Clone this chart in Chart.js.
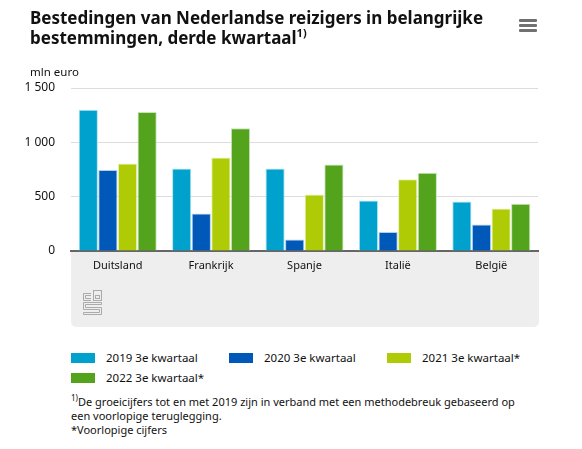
<!DOCTYPE html>
<html>
<head>
<meta charset="utf-8">
<script src="https://cdn.jsdelivr.net/npm/chart.js@4.4.1/dist/chart.umd.min.js"></script>
<style>
    body { margin: 0; background: #fff; font-family: 'Noto Sans', sans-serif; color: #111; }
    #wrap { position: relative; width: 582px; height: 449px; overflow: hidden; }
    #chart-box { position: absolute; left: 0; top: 0; width: 582px; height: 340px; }
    .title { position: absolute; left: 30px; top: 8px; font-size: 17px; font-weight: bold; line-height: 20px; white-space: nowrap; }
    .title sup { font-size: 11px; line-height: 0; }
    .unit { position: absolute; left: 30px; top: 64px; font-size: 11.5px; }
    .menu { position: absolute; left: 519px; top: 19px; width: 18px; }
    .menu div { height: 3px; background: #707070; margin-bottom: 2px; border-radius: 1px; }
    .legend-item { position: absolute; font-size: 11.5px; white-space: nowrap; }
    .legend-item span.box { position: absolute; left: 0; top: 4px; width: 24px; height: 10px; }
    .legend-item span.txt { position: absolute; left: 35px; top: 0; line-height: 17px; }
    .notes { position: absolute; left: 71px; top: 395px; font-size: 11px; line-height: 14px; white-space: nowrap; }
    .notes sup { font-size: 8px; line-height: 0; }
</style>
</head>
<body>
<div id="wrap">
    <div id="chart-box"><canvas id="spend-chart"></canvas></div>
    <div class="title">Bestedingen van Nederlandse reizigers in belangrijke<br>bestemmingen, derde kwartaal<sup>1)</sup></div>
    <div class="menu"><div></div><div></div><div></div></div>
    <div class="unit">mln euro</div>
    <div id="legend"></div>
    <div class="notes"><sup>1)</sup>De groeicijfers tot en met 2019 zijn in verband met een methodebreuk gebaseerd op<br>een voorlopige teruglegging.<br>*Voorlopige cijfers</div>
</div>
<script>
// data (mln euro)
const countries = ['Duitsland', 'Frankrijk', 'Spanje', 'Italië', 'België'];
const seriesNames = ['2019 3e kwartaal', '2020 3e kwartaal', '2021 3e kwartaal*', '2022 3e kwartaal*'];
const q3_2019 = [1300, 760, 760, 465, 455];
const q3_2020 = [745, 345, 105, 175, 245];
const q3_2021 = [805, 860, 520, 660, 390];
const q3_2022 = [1280, 1130, 795, 720, 435];
const yTicks = [0, 500, 1000, 1500];

const colors = ['#00a1cd', '#0058b8', '#afcb05', '#53a31d'];
const borders = ['#b3e3f0', '#b3cdea', '#e7efb4', '#cbe3bb'];

const fmt = (v) => String(v).replace(/\B(?=(\d{3})+(?!\d))/g, ' ');

// grey band under the axis + small cbs mark
const bandPlugin = {
    id: 'band',
    beforeDraw: (chart) => {
        const ctx = chart.ctx;
        const area = chart.chartArea;
        const xs = chart.scales.x;
        const l = area.left, r = area.right + 1, t = area.bottom, b = xs.bottom, rad = 6;
        ctx.save();
        ctx.fillStyle = '#eeeeee';
        ctx.beginPath();
        ctx.moveTo(l, t);
        ctx.lineTo(r, t);
        ctx.lineTo(r, b - rad);
        ctx.quadraticCurveTo(r, b, r - rad, b);
        ctx.lineTo(l + rad, b);
        ctx.quadraticCurveTo(l, b, l, b - rad);
        ctx.closePath();
        ctx.fill();

        // logo
        const lx = l + 12, ly = t + 39;
        ctx.strokeStyle = '#aaaaaa';
        ctx.lineWidth = 1;
        ctx.beginPath();
        // c
        ctx.moveTo(lx + 8, ly + 3.5); ctx.lineTo(lx + 0.5, ly + 3.5); ctx.lineTo(lx + 0.5, ly + 10.5); ctx.lineTo(lx + 8, ly + 10.5);
        ctx.moveTo(lx + 8, ly + 5.5); ctx.lineTo(lx + 2.5, ly + 5.5); ctx.lineTo(lx + 2.5, ly + 8.5); ctx.lineTo(lx + 8, ly + 8.5);
        ctx.stroke();
        // b
        ctx.strokeRect(lx + 10.5, ly + 0.5, 8, 10);
        ctx.strokeRect(lx + 12.5, ly + 5.5, 4, 3);
        // s
        ctx.beginPath();
        ctx.moveTo(lx + 18.5, ly + 12.5); ctx.lineTo(lx + 0.5, ly + 12.5); ctx.lineTo(lx + 0.5, ly + 19.5);
        ctx.lineTo(lx + 16.5, ly + 19.5); ctx.lineTo(lx + 16.5, ly + 22.5); ctx.lineTo(lx + 0.5, ly + 22.5);
        ctx.lineTo(lx + 0.5, ly + 24.5); ctx.lineTo(lx + 18.5, ly + 24.5); ctx.lineTo(lx + 18.5, ly + 17.5);
        ctx.lineTo(lx + 2.5, ly + 17.5); ctx.lineTo(lx + 2.5, ly + 14.5); ctx.lineTo(lx + 18.5, ly + 14.5);
        ctx.closePath();
        ctx.stroke();
        ctx.restore();
    }
};

const ctx = document.getElementById('spend-chart');
const chart = new Chart(ctx, {
    type: 'bar',
    data: {
        labels: countries,
        datasets: [q3_2019, q3_2020, q3_2021, q3_2022].map((vals, i) => ({
            label: seriesNames[i],
            data: vals,
            backgroundColor: colors[i],
            borderColor: borders[i],
            borderWidth: 1,
            barPercentage: 0.98,
            categoryPercentage: 0.84
        }))
    },
    options: {
        responsive: true,
        maintainAspectRatio: false,
        animation: false,
        layout: { padding: { left: 0, right: 44, top: 88, bottom: 13 } },
        plugins: {
            legend: { display: false },
            tooltip: { enabled: false }
        },
        scales: {
            x: {
                afterFit: (scale) => { scale.height = 76; },
                grid: { display: false, drawTicks: false },
                border: { display: true, color: '#666666', width: 2 },
                ticks: {
                    padding: 8,
                    color: '#111',
                    font: { family: "'Noto Sans', sans-serif", size: 11 }
                }
            },
            y: {
                min: 0,
                max: 1500,
                afterFit: (scale) => { scale.width = 71; },
                afterBuildTicks: (scale) => { scale.ticks = yTicks.map(v => ({ value: v })); },
                grid: {
                    drawTicks: false,
                    color: (c) => c.tick && c.tick.value === 0 ? 'rgba(0,0,0,0)' : '#dddddd'
                },
                border: { display: false },
                ticks: {
                    padding: 16,
                    color: '#111',
                    font: { family: "'Noto Sans', sans-serif", size: 12 },
                    callback: (v) => fmt(v)
                }
            }
        }
    },
    plugins: [bandPlugin]
});

// html legend from the chart's datasets
const legendPos = [[71, 349], [229, 349], [387, 349], [71, 369]];
const legendEl = document.getElementById('legend');
chart.data.datasets.forEach((ds, i) => {
    const item = document.createElement('div');
    item.className = 'legend-item';
    item.style.left = legendPos[i][0] + 'px';
    item.style.top = legendPos[i][1] + 'px';
    item.innerHTML = `<span class="box" style="background:${ds.backgroundColor}"></span><span class="txt">${ds.label}</span>`;
    legendEl.appendChild(item);
});
</script>
</body>
</html>
